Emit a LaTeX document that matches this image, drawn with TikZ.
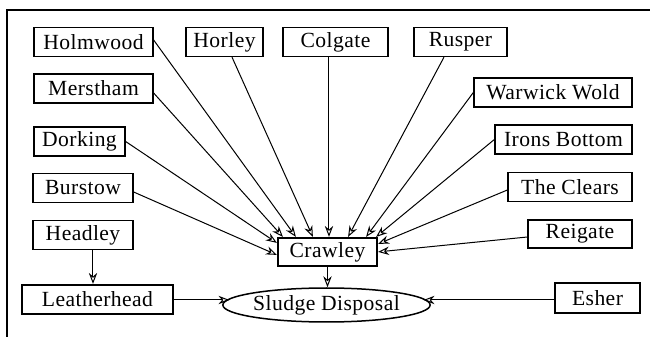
\documentclass[tikz,border=0pt]{standalone}
\usepackage{fontspec}
\setmainfont[LetterSpace=2]{Liberation Serif}
\usetikzlibrary{arrows.meta,shapes.geometric}

\begin{document}
\begin{tikzpicture}[x=0.5pt,y=-0.5pt,
  site/.style={draw, line width=0.65pt, inner sep=0pt, minimum height=14.5pt,
    font=\fontsize{10.8pt}{13pt}\selectfont},
  hub/.style={site, line width=1.1pt},
  sink/.style={draw, ellipse, line width=0.75pt, inner sep=0pt,
    minimum width=101.5pt, minimum height=17pt,
    font=\fontsize{10.8pt}{13pt}\selectfont},
  flow/.style={draw, line width=0.5pt,
    -{Stealth[open, length=5.5pt, width=4.2pt]}}
]
\useasboundingbox (0,0) rectangle (650,337);

% frame
\draw[line width=0.8pt] (7,337) -- (7,10) -- (650,10);

% sources, top row
\node[site, minimum width=59.5pt] (holmwood) at (93.5,42) {Holmwood};
\node[site, minimum width=38.5pt] (horley)   at (224.5,42) {Horley};
\node[site, minimum width=52.5pt] (colgate)  at (335.5,42) {Colgate};
\node[site, minimum width=46.5pt] (rusper)   at (460.5,42) {Rusper};

% sources, left column
\node[site, minimum width=59.5pt] (merstham) at (93.5,88.5) {Merstham};
\node[site, minimum width=45.5pt] (dorking)  at (79.5,141.5) {Dorking};
\node[site, minimum width=50pt]   (burstow)  at (83,188) {Burstow};
\node[site, minimum width=50pt]   (headley)  at (83,235) {Headley};

% sources, right column
\node[site, minimum width=79pt]   (warwick)  at (553,92.5) {Warwick Wold};
\node[site, minimum width=68.5pt] (irons)    at (563.5,139.5) {Irons Bottom};
\node[site, minimum width=62pt]   (clears)   at (570,187) {The Clears};
\node[site, minimum width=52pt, minimum height=14pt] (reigate) at (580,234) {Reigate};

% treatment works and disposal
\node[hub, minimum width=49.5pt, minimum height=14pt] (crawley) at (327.5,252) {Crawley};
\node[hub, minimum width=75.5pt] (leatherhead) at (97.5,299.5) {Leatherhead};
\node[hub, minimum width=42.5pt, minimum height=15pt] (esher) at (597.5,298) {Esher};
\node[sink] (sludge) at (326.5,305) {Sludge Disposal};

\coordinate (slw) at ([xshift=-48.5pt,yshift=2.5pt]sludge.center);
\coordinate (sle) at ([xshift=48.5pt,yshift=2.5pt]sludge.center);

% flows into Crawley
\draw[flow] ([yshift=-2pt]burstow.east) -- ([yshift=-9pt]crawley.north west);
\draw[flow] (dorking.east) -- ([yshift=-3pt]crawley.north west);
\draw[flow] ([yshift=-2.25pt]merstham.east) -- ([xshift=3pt]crawley.north west);
\draw[flow] ([yshift=1pt]holmwood.east) -- ([xshift=9.5pt]crawley.north west);
\draw[flow] ([xshift=3.75pt]horley.south) -- ([xshift=18pt]crawley.north west);
\draw[flow] ([xshift=-3.25pt]colgate.south) -- ([xshift=0.75pt]crawley.north);
\draw[flow] ([xshift=-8.25pt]rusper.south) -- ([xshift=-15pt]crawley.north east);
\draw[flow] (warwick.west) -- ([xshift=-6pt]crawley.north east);
\draw[flow] (irons.west) -- ([xshift=-1pt]crawley.north east);
\draw[flow] ([yshift=-1.5pt]clears.west) -- ([yshift=-3.5pt]crawley.north east);
\draw[flow] ([yshift=-1.5pt]reigate.west) -- ([yshift=-7.5pt]crawley.north east);

% Headley into Leatherhead
\draw[flow] ([xshift=5pt]headley.south) -- ([xshift=5pt]headley.south |- leatherhead.north);

% flows to disposal
\draw[flow] (crawley.south) -- (crawley.south |- sludge.north);
\draw[flow] (leatherhead.east |- slw) -- (slw);
\draw[flow] (esher.west |- sle) -- (sle);
\end{tikzpicture}
\end{document}
